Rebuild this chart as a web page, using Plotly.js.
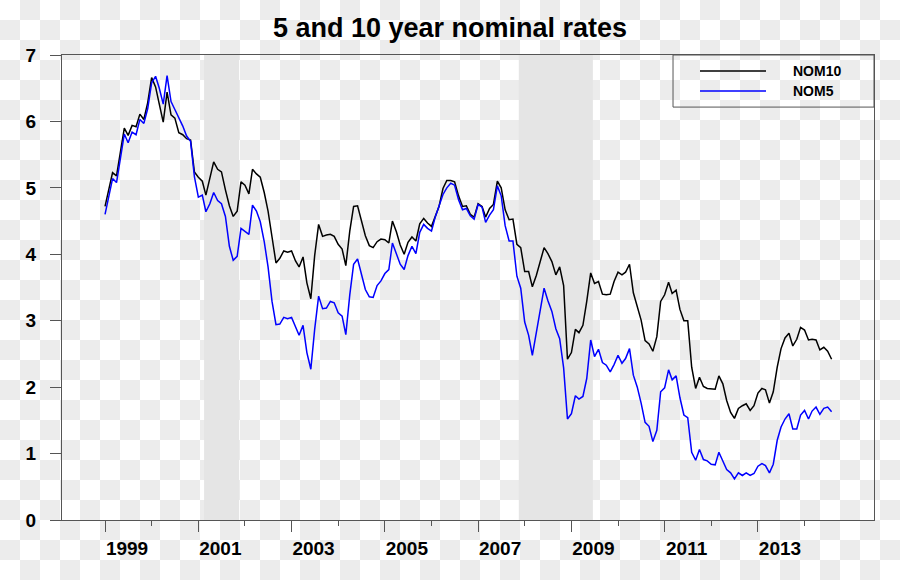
<!DOCTYPE html>
<html>
<head>
<meta charset="utf-8">
<script src="https://cdn.plot.ly/plotly-3.0.1.min.js"></script>
<style>
html, body {
  margin: 0; padding: 0; width: 900px; height: 580px; overflow: hidden;
  background-color: #ffffff;
  background-image: repeating-conic-gradient(#ececec 0% 25%, #ffffff 0% 50%);
  background-size: 40px 40px;
  background-position: 0 0;
}
#chart { width: 900px; height: 580px; }
</style>
</head>
<body>
<div id="chart"></div>
<script>
// Monthly series, Jan 1999 .. Aug 2014
const startYear = 1999;
const nom10 = [
  4.72, 5.00, 5.23, 5.18, 5.54, 5.90, 5.79, 5.94, 5.92, 6.11, 6.03, 6.28, // 1999
  6.66, 6.52, 6.26, 5.99, 6.44, 6.10, 6.05, 5.83, 5.80, 5.74, 5.72, 5.24, // 2000
  5.16, 5.10, 4.89, 5.14, 5.39, 5.28, 5.24, 4.97, 4.73, 4.57, 4.65, 5.09, // 2001
  5.04, 4.91, 5.28, 5.21, 5.16, 4.93, 4.65, 4.26, 3.87, 3.94, 4.05, 4.03, // 2002
  4.05, 3.90, 3.81, 3.96, 3.57, 3.33, 3.98, 4.45, 4.27, 4.29, 4.30, 4.27, // 2003
  4.15, 4.08, 3.83, 4.35, 4.72, 4.73, 4.50, 4.28, 4.13, 4.10, 4.19, 4.23, // 2004
  4.22, 4.17, 4.50, 4.34, 4.14, 4.00, 4.18, 4.26, 4.20, 4.46, 4.54, 4.47, // 2005
  4.42, 4.57, 4.72, 4.99, 5.11, 5.11, 5.09, 4.88, 4.72, 4.73, 4.60, 4.56, // 2006
  4.76, 4.72, 4.56, 4.69, 4.75, 5.10, 5.00, 4.67, 4.52, 4.53, 4.15, 4.10, // 2007
  3.74, 3.74, 3.51, 3.68, 3.88, 4.10, 4.01, 3.89, 3.69, 3.81, 3.53, 2.42, // 2008
  2.52, 2.87, 2.82, 2.93, 3.29, 3.72, 3.56, 3.59, 3.40, 3.39, 3.40, 3.59, // 2009
  3.73, 3.69, 3.73, 3.85, 3.42, 3.20, 3.01, 2.70, 2.65, 2.54, 2.76, 3.29, // 2010
  3.39, 3.58, 3.41, 3.46, 3.17, 3.00, 3.00, 2.30, 1.98, 2.15, 2.01, 1.98, // 2011
  1.97, 1.97, 2.17, 2.05, 1.80, 1.62, 1.53, 1.68, 1.72, 1.75, 1.65, 1.72, // 2012
  1.91, 1.98, 1.96, 1.76, 1.93, 2.30, 2.58, 2.74, 2.81, 2.62, 2.72, 2.90, // 2013
  2.86, 2.71, 2.72, 2.71, 2.56, 2.60, 2.54, 2.42                          // 2014
];
const nom5 = [
  4.60, 4.91, 5.14, 5.08, 5.44, 5.81, 5.68, 5.84, 5.80, 6.03, 5.97, 6.19, // 1999
  6.58, 6.68, 6.50, 6.26, 6.69, 6.30, 6.18, 6.06, 5.93, 5.78, 5.70, 5.17, // 2000
  4.86, 4.89, 4.64, 4.76, 4.93, 4.81, 4.76, 4.57, 4.12, 3.91, 3.97, 4.39, // 2001
  4.34, 4.30, 4.74, 4.65, 4.49, 4.19, 3.81, 3.29, 2.94, 2.95, 3.05, 3.03, // 2002
  3.05, 2.90, 2.78, 2.93, 2.52, 2.27, 2.87, 3.37, 3.18, 3.19, 3.29, 3.27, // 2003
  3.12, 3.07, 2.79, 3.39, 3.85, 3.93, 3.69, 3.47, 3.36, 3.35, 3.53, 3.60, // 2004
  3.71, 3.77, 4.17, 4.00, 3.85, 3.77, 3.98, 4.12, 4.01, 4.33, 4.45, 4.39, // 2005
  4.35, 4.57, 4.72, 4.90, 5.00, 5.07, 5.04, 4.82, 4.67, 4.69, 4.58, 4.53, // 2006
  4.75, 4.71, 4.48, 4.59, 4.67, 5.03, 4.88, 4.43, 4.20, 4.20, 3.67, 3.49, // 2007
  2.98, 2.78, 2.48, 2.84, 3.15, 3.49, 3.30, 3.14, 2.88, 2.73, 2.29, 1.52, // 2008
  1.60, 1.87, 1.82, 1.86, 2.13, 2.71, 2.46, 2.57, 2.37, 2.33, 2.23, 2.34, // 2009
  2.48, 2.36, 2.43, 2.58, 2.18, 2.00, 1.76, 1.47, 1.41, 1.18, 1.35, 1.93, // 2010
  1.99, 2.26, 2.11, 2.17, 1.84, 1.58, 1.54, 1.02, 0.90, 1.06, 0.91, 0.89, // 2011
  0.84, 0.83, 1.02, 0.89, 0.76, 0.71, 0.62, 0.71, 0.67, 0.71, 0.67, 0.70, // 2012
  0.81, 0.85, 0.82, 0.71, 0.84, 1.20, 1.40, 1.52, 1.60, 1.37, 1.37, 1.58, // 2013
  1.65, 1.52, 1.64, 1.70, 1.59, 1.68, 1.70, 1.63                          // 2014
];
const seriesNames = ['NOM10', 'NOM5'];
const majorTickDates = ['1999-01-01', '2001-01-01', '2003-01-01', '2005-01-01', '2007-01-01', '2009-01-01', '2011-01-01', '2013-01-01'];
const majorTickLabels = ['1999', '2001', '2003', '2005', '2007', '2009', '2011', '2013'];
const minorTickDates = ['2000-01-01', '2002-01-01', '2004-01-01', '2006-01-01', '2008-01-01', '2010-01-01', '2012-01-01', '2014-01-01'];
const recessionStart = ['2001-02-15', '2007-11-16'];
const recessionEnd = ['2001-11-16', '2009-06-18'];
const titleText = '5 and 10 year nominal rates';

// month dates
const dates = [];
for (let i = 0; i < nom10.length; i++) {
  const y = startYear + Math.floor(i / 12);
  const m = (i % 12) + 1;
  dates.push(y + '-' + String(m).padStart(2, '0') + '-01');
}

const FONT = 'Liberation Sans, Arial, Helvetica, sans-serif';
const axisGray = '#555555';

const traces = [
  { x: dates, y: nom10, name: seriesNames[0], type: 'scatter', mode: 'lines',
    line: { color: '#000000', width: 1.5 }, hoverinfo: 'skip' },
  { x: dates, y: nom5, name: seriesNames[1], type: 'scatter', mode: 'lines',
    line: { color: '#0000ff', width: 1.5 }, hoverinfo: 'skip' }
];

const shapes = [];
for (let i = 0; i < recessionStart.length; i++) {
  shapes.push({ type: 'rect', xref: 'x', yref: 'paper', x0: recessionStart[i], x1: recessionEnd[i],
    y0: 0, y1: 1, fillcolor: '#e5e5e5', line: { width: 0 }, layer: 'below' });
}
// legend box
shapes.push({ type: 'rect', xref: 'paper', yref: 'paper', x0: 0.7525, x1: 1, y0: 0.888, y1: 1,
  line: { color: axisGray, width: 1 }, fillcolor: 'rgba(0,0,0,0)' });
shapes.push({ type: 'line', xref: 'paper', yref: 'paper', x0: 0.7857, x1: 0.867, y0: 0.9656, y1: 0.9656,
  line: { color: '#000000', width: 1.5 } });
shapes.push({ type: 'line', xref: 'paper', yref: 'paper', x0: 0.7857, x1: 0.867, y0: 0.9226, y1: 0.9226,
  line: { color: '#0000ff', width: 1.5 } });

const annotations = [
  { xref: 'paper', yref: 'paper', x: 0.898, y: 0.9656, xanchor: 'left', yanchor: 'middle', showarrow: false,
    text: seriesNames[0], font: { family: FONT, size: 14, color: '#000', weight: 'bold' } },
  { xref: 'paper', yref: 'paper', x: 0.898, y: 0.9226, xanchor: 'left', yanchor: 'middle', showarrow: false,
    text: seriesNames[1], font: { family: FONT, size: 14, color: '#000', weight: 'bold' } }
];

const layout = {
  width: 900, height: 580,
  paper_bgcolor: 'rgba(0,0,0,0)', plot_bgcolor: 'rgba(0,0,0,0)',
  margin: { l: 62, r: 26, t: 55, b: 60, pad: 0 },
  showlegend: false,
  title: { text: titleText, x: 0.5, xanchor: 'center', y: 0.953, yanchor: 'middle', yref: 'container',
    font: { family: FONT, size: 27, color: '#000', weight: 'bold' } },
  xaxis: {
    type: 'date', range: ['1998-01-29', '2015-06-29'],
    tickmode: 'array', tickvals: majorTickDates, ticktext: majorTickLabels,
    ticks: 'outside', ticklen: 11, tickwidth: 1, tickcolor: axisGray,
    ticklabelshift: 22, ticklabelstandoff: 0,
    showline: true, linecolor: axisGray, linewidth: 1, mirror: true,
    showgrid: false, zeroline: false,
    tickfont: { family: FONT, size: 19, color: '#000', weight: 'bold' },
    minor: { tickmode: 'array', tickvals: minorTickDates, ticks: 'outside', ticklen: 5, tickwidth: 1, tickcolor: axisGray, showgrid: false }
  },
  yaxis: {
    range: [0, 7], tick0: 0, dtick: 1,
    ticks: 'outside', ticklen: 11, tickwidth: 1, tickcolor: axisGray,
    ticklabelstandoff: 10,
    showline: true, linecolor: axisGray, linewidth: 1, mirror: true,
    showgrid: false, zeroline: false,
    tickfont: { family: FONT, size: 19, color: '#000', weight: 'bold' }
  },
  shapes: shapes,
  annotations: annotations
};

Plotly.newPlot('chart', traces, layout, { staticPlot: true, displayModeBar: false });
</script>
</body>
</html>
